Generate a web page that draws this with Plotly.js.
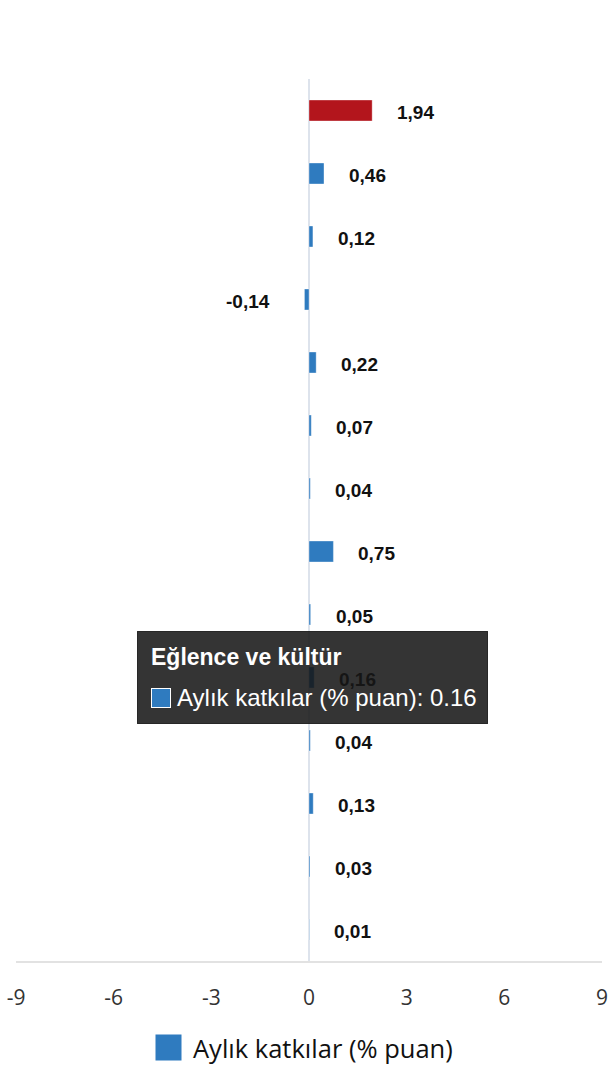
<!DOCTYPE html>
<html>
<head>
<meta charset="utf-8">
<script src="https://cdn.plot.ly/plotly-3.0.1.min.js"></script>
<style>
  html, body { margin: 0; padding: 0; background: #fff; }
  #chart { width: 610px; height: 1080px; }
</style>
</head>
<body>
<div id="chart"></div>
<script>
const categories = [
    "TÜFE",
    "Gıda ve alkolsüz içecekler",
    "Alkollü içecekler ve tütün",
    "Giyim ve ayakkabı",
    "Konut",
    "Ev eşyası",
    "Sağlık",
    "Ulaştırma",
    "Bilgi ve iletişim",
    "Eğlence ve kültür",
    "Eğitim",
    "Lokanta ve oteller",
    "Sigorta ve finansal hizmetler",
    "Çeşitli mal ve hizmetler"
];
const values = [1.94, 0.46, 0.12, -0.14, 0.22, 0.07, 0.04, 0.75, 0.05, 0.16, 0.04, 0.13, 0.03, 0.01];
const seriesName = "Aylık katkılar (% puan)";
const tickValues = [-9, -6, -3, 0, 3, 6, 9];
const tickLabels = ["-9", "-6", "-3", "0", "3", "6", "9"];
const hoveredIndex = 9;

const BLUE = "#2f7bbf";
const RED = "#b3151c";
const ARIAL = "Liberation Sans, Arial, sans-serif";

const bars = {
    type: "bar",
    orientation: "h",
    name: seriesName,
    x: values,
    y: categories,
    marker: {
        color: values.map((v, i) => i === 0 ? RED : BLUE),
        line: {color: "rgba(255,255,255,0.35)", width: 1}
    },
    hoverinfo: "skip",
    showlegend: false
};

// value labels next to the bars, comma as decimal mark
const labelNotes = values.map((v, i) => ({
    x: v,
    y: categories[i],
    xref: "x",
    yref: "y",
    text: "<b>" + v.toFixed(2).replace(".", ",") + "</b>",
    showarrow: false,
    xanchor: v < 0 ? "right" : "left",
    xshift: v < 0 ? -32 : 23,
    yshift: -2,
    font: {family: ARIAL, size: 19, color: "#111"}
}));

// tooltip of the hovered bar (drawn last so it covers its own label)
const hv = values[hoveredIndex];
const hc = categories[hoveredIndex];
const tooltipNotes = [
    {
        x: hv, y: hc, xref: "x", yref: "y",
        text: " ", showarrow: false,
        xanchor: "center", yanchor: "middle", xshift: -2,
        width: 349, height: 91,
        bgcolor: "rgba(22,22,22,0.87)",
        bordercolor: "rgba(22,22,22,0.87)", borderwidth: 1, borderpad: 0
    },
    {
        x: hv, y: hc, xref: "x", yref: "y",
        text: "<b>" + hc + "</b>", showarrow: false,
        xanchor: "left", yanchor: "middle", xshift: -165, yshift: 21,
        font: {family: ARIAL, size: 23, color: "#fff"}
    },
    {
        x: hv, y: hc, xref: "x", yref: "y",
        text: " ", showarrow: false,
        xanchor: "center", yanchor: "middle", xshift: -153, yshift: -20,
        width: 18, height: 18,
        bgcolor: BLUE, bordercolor: "#fff", borderwidth: 1, borderpad: 0
    },
    {
        x: hv, y: hc, xref: "x", yref: "y",
        text: seriesName + ": " + hv, showarrow: false,
        xanchor: "left", yanchor: "middle", xshift: -139, yshift: -20,
        font: {family: ARIAL, size: 24, color: "#fff"}
    }
];

// legend drawn below the axis
const legendNotes = [
    {
        x: 0, y: 0, xref: "paper", yref: "paper",
        text: " ", showarrow: false,
        xanchor: "center", yanchor: "middle", xshift: 152, yshift: -86,
        width: 25, height: 25, bgcolor: BLUE, borderpad: 0
    },
    {
        x: 0, y: 0, xref: "paper", yref: "paper",
        text: seriesName, showarrow: false,
        xanchor: "left", yanchor: "middle", xshift: 175, yshift: -87,
        font: {family: "Open Sans, sans-serif", size: 25.5, color: "#111"}
    }
];

Plotly.newPlot("chart", [bars], {
    width: 610,
    height: 1080,
    margin: {l: 16, r: 8, t: 79, b: 119},
    paper_bgcolor: "#fff",
    plot_bgcolor: "#fff",
    bargap: 0.667,
    hovermode: false,
    showlegend: false,
    xaxis: {
        range: [-9, 9],
        tickvals: tickValues,
        ticktext: tickLabels,
        showgrid: false,
        zeroline: true,
        zerolinecolor: "#dde3ec",
        zerolinewidth: 2,
        showline: true,
        linecolor: "#e2e2e2",
        linewidth: 2,
        ticks: "",
        ticklabelstandoff: 17,
        tickfont: {family: "Open Sans, sans-serif", size: 21, color: "#333"},
        fixedrange: true
    },
    yaxis: {
        autorange: "reversed",
        showticklabels: false,
        showgrid: false,
        zeroline: false,
        ticks: "",
        fixedrange: true
    },
    annotations: [...labelNotes, ...tooltipNotes, ...legendNotes]
}, {displayModeBar: false, staticPlot: true});
</script>
</body>
</html>
